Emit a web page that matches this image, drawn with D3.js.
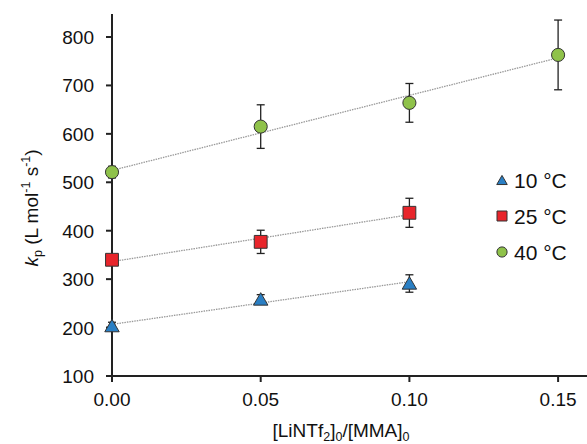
<!DOCTYPE html>
<html>
<head>
<meta charset="utf-8">
<script src="https://cdn.jsdelivr.net/npm/d3@7"></script>
<style>
  body { margin: 0; background: #fff; }
  text { font-family: "Liberation Sans", Arial, sans-serif; fill: #111; }
</style>
</head>
<body>
<div id="myPlot" style="width:587px;height:444px"></div>
<script>
// Chart data
const ratio = [0.00, 0.05, 0.10, 0.15];
const kp10 = [203, 258, 291];
const err10 = [8, 10, 18];
const kp25 = [340, 377, 437];
const err25 = [8, 24, 30];
const kp40 = [521, 615, 664, 763];
const err40 = [12, 45, 40, 72];
const seriesNames = ["10 °C", "25 °C", "40 °C"];
const yTicks = [100, 200, 300, 400, 500, 600, 700, 800];
const xTicks = [0.00, 0.05, 0.10, 0.15];

const width = 587, height = 444;

const svg = d3.select("#myPlot").append("svg")
  .attr("width", width).attr("height", height);

const x = d3.scaleLinear().domain([0, 0.16]).range([112, 112 + 0.16 / 0.05 * 148.7]);
const y = d3.scaleLinear().domain([100, 800]).range([376, 37]);

// build series
const series = [
  { name: seriesNames[0], vals: kp10, err: err10, shape: d3.symbolTriangle, size: 90, lsize: 48, fill: "#2a7fc4" },
  { name: seriesNames[1], vals: kp25, err: err25, shape: d3.symbolSquare, size: 165, lsize: 100, fill: "#e8252b" },
  { name: seriesNames[2], vals: kp40, err: err40, shape: d3.symbolCircle, size: 135, lsize: 82, fill: "#8fc24a" }
];
series.forEach(s => {
  s.points = s.vals.map((v, i) => ({ x: ratio[i], y: v, e: s.err[i] }));
});

// least squares fit
function fit(pts) {
  const mx = d3.mean(pts, d => d.x), my = d3.mean(pts, d => d.y);
  let sxy = 0, sxx = 0;
  pts.forEach(p => { sxy += (p.x - mx) * (p.y - my); sxx += (p.x - mx) * (p.x - mx); });
  const b = sxy / sxx;
  return xv => my + b * (xv - mx);
}

// Axes
const yTop = y.invert(14);
svg.append("line")
  .attr("x1", x(0)).attr("x2", x(0)).attr("y1", y(yTop)).attr("y2", y(100))
  .attr("stroke", "#222").attr("stroke-width", 2);
svg.append("line")
  .attr("x1", x(0)).attr("x2", width).attr("y1", y(100)).attr("y2", y(100))
  .attr("stroke", "#222").attr("stroke-width", 2);

const yg = svg.append("g");
yg.selectAll("line").data(yTicks).enter().append("line")
  .attr("x1", x(0) - 6).attr("x2", x(0))
  .attr("y1", d => y(d)).attr("y2", d => y(d))
  .attr("stroke", "#222").attr("stroke-width", 2);
yg.selectAll("text").data(yTicks).enter().append("text")
  .attr("x", 94).attr("y", d => y(d) + 7)
  .attr("text-anchor", "end").attr("font-size", 19)
  .text(d => d);

const xg = svg.append("g");
xg.selectAll("line").data(xTicks).enter().append("line")
  .attr("x1", d => x(d)).attr("x2", d => x(d))
  .attr("y1", y(100)).attr("y2", y(100) + 6)
  .attr("stroke", "#222").attr("stroke-width", 2);
xg.selectAll("text").data(xTicks).enter().append("text")
  .attr("x", d => x(d)).attr("y", 406)
  .attr("text-anchor", "middle").attr("font-size", 19)
  .text(d => d.toFixed(2));

// Axis titles
const xt = svg.append("text").attr("x", 341).attr("y", 437)
  .attr("text-anchor", "middle").attr("font-size", 19);
xt.append("tspan").text("[LiNTf");
xt.append("tspan").attr("font-size", 12.5).attr("dy", 4).text("2");
xt.append("tspan").attr("dy", -4).text("]");
xt.append("tspan").attr("font-size", 12.5).attr("dy", 4).text("0");
xt.append("tspan").attr("dy", -4).text("/[MMA]");
xt.append("tspan").attr("font-size", 12.5).attr("dy", 4).text("0");

const yt = svg.append("text")
  .attr("transform", "translate(38,208) rotate(-90)")
  .attr("text-anchor", "middle").attr("font-size", 19);
yt.append("tspan").attr("font-style", "italic").text("k");
yt.append("tspan").attr("font-size", 12.5).attr("dy", 4).text("p");
yt.append("tspan").attr("dy", -4).text(" (L mol");
yt.append("tspan").attr("font-size", 12.5).attr("dy", -8).text("-1");
yt.append("tspan").attr("dy", 8).text(" s");
yt.append("tspan").attr("font-size", 12.5).attr("dy", -8).text("-1");
yt.append("tspan").attr("dy", 8).text(")");

// Trend lines
series.forEach(s => {
  const f = fit(s.points);
  const x0 = s.points[0].x, x1 = s.points[s.points.length - 1].x;
  svg.append("line")
    .attr("x1", x(x0)).attr("y1", y(f(x0)))
    .attr("x2", x(x1)).attr("y2", y(f(x1)))
    .attr("stroke", "#999").attr("stroke-width", 1.3)
    .attr("stroke-dasharray", "1.5,1");
});

// Error bars
series.forEach(s => {
  const g = svg.append("g").attr("stroke", "#222").attr("stroke-width", 1.3);
  g.selectAll(".v").data(s.points).enter().append("line")
    .attr("x1", d => x(d.x)).attr("x2", d => x(d.x))
    .attr("y1", d => y(d.y - d.e)).attr("y2", d => y(d.y + d.e));
  g.selectAll(".t").data(s.points).enter().append("line")
    .attr("x1", d => x(d.x) - 4).attr("x2", d => x(d.x) + 4)
    .attr("y1", d => y(d.y + d.e)).attr("y2", d => y(d.y + d.e));
  g.selectAll(".b").data(s.points).enter().append("line")
    .attr("x1", d => x(d.x) - 4).attr("x2", d => x(d.x) + 4)
    .attr("y1", d => y(d.y - d.e)).attr("y2", d => y(d.y - d.e));
});

// Markers
series.forEach(s => {
  const sym = d3.symbol().type(s.shape).size(s.size);
  svg.append("g").selectAll("path").data(s.points).enter().append("path")
    .attr("d", sym)
    .attr("transform", d => "translate(" + x(d.x) + "," + (y(d.y) + (s.shape === d3.symbolTriangle ? 1.5 : 0)) + ")")
    .attr("fill", s.fill).attr("stroke", "#333").attr("stroke-width", 1);
});

// Legend
const legend = svg.append("g");
series.forEach((s, i) => {
  const ly = 180 + i * 36;
  legend.append("path")
    .attr("d", d3.symbol().type(s.shape).size(s.lsize)())
    .attr("transform", "translate(502," + (ly + (s.shape === d3.symbolTriangle ? 1.5 : 0)) + ")")
    .attr("fill", s.fill).attr("stroke", "#333").attr("stroke-width", 1);
  legend.append("text").attr("x", 514).attr("y", ly + 8)
    .attr("font-size", 21).text(s.name);
});
</script>
</body>
</html>
